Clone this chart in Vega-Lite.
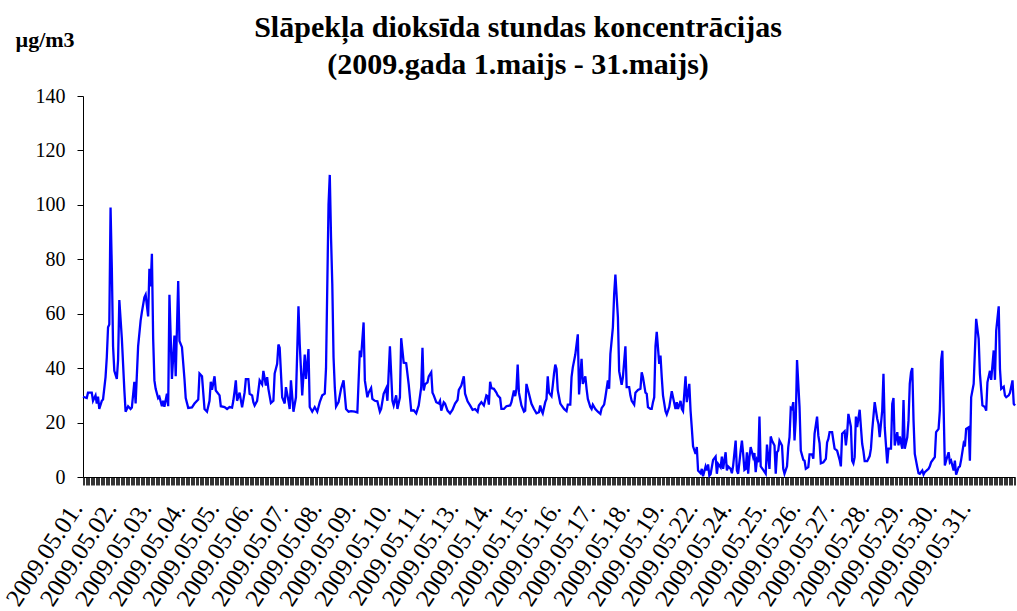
{
  "$schema": "https://vega.github.io/schema/vega-lite/v6.json",
  "width": 932,
  "height": 381,
  "autosize": {"type": "none"},
  "padding": {"left": 83, "top": 96, "right": 2, "bottom": 134},
  "background": "white",
  "config": {"view": {"stroke": null}, "font": "Liberation Serif"},
  "title": {
    "text": ["Slāpekļa dioksīda stundas koncentrācijas", "(2009.gada 1.maijs - 31.maijs)"],
    "font": "Liberation Serif",
    "fontSize": 30,
    "fontWeight": "bold",
    "color": "black",
    "lineHeight": 37,
    "anchor": "middle",
    "dx": -31,
    "dy": 68,
    "offset": 16
  },
  "data": {"values": [
    {"h":0,"v":29.5},{"h":3,"v":29},{"h":4,"v":31},{"h":7,"v":31},{"h":8,"v":28},{"h":10,"v":30},{"h":11,"v":27},{"h":12,"v":29.5},{"h":13,"v":25},{"h":15,"v":28},{"h":16,"v":28.5},{"h":18,"v":36.7},{"h":19,"v":44},{"h":20,"v":55},{"h":21,"v":56},{"h":22,"v":99},{"h":23,"v":77},{"h":24,"v":48},{"h":25,"v":39},{"h":27,"v":36},{"h":28,"v":43},{"h":29,"v":65},{"h":31,"v":51},{"h":33,"v":32},{"h":34,"v":24},{"h":36,"v":26},{"h":38,"v":25},{"h":39,"v":25.5},{"h":41,"v":35},{"h":42,"v":27},{"h":44,"v":48},{"h":46,"v":57.5},{"h":47,"v":60.6},{"h":49,"v":66},{"h":50,"v":67},{"h":52,"v":59},{"h":53,"v":76.5},{"h":54,"v":70},{"h":55,"v":82},{"h":56,"v":51},{"h":57,"v":35.5},{"h":58,"v":32.4},{"h":60,"v":29},{"h":61,"v":29.5},{"h":63,"v":26},{"h":64,"v":28},{"h":65,"v":25.8},{"h":67,"v":30.6},{"h":68,"v":26},{"h":69,"v":67},{"h":71,"v":36},{"h":73,"v":52},{"h":74,"v":37},{"h":76,"v":72},{"h":77,"v":50},{"h":79,"v":47.7},{"h":81,"v":36},{"h":82,"v":29},{"h":84,"v":25.4},{"h":87,"v":25.6},{"h":89,"v":27},{"h":92,"v":28.5},{"h":93,"v":38},{"h":95,"v":37},{"h":97,"v":25},{"h":99,"v":24},{"h":101,"v":28},{"h":102,"v":35},{"h":103,"v":32},{"h":105,"v":37},{"h":106,"v":31.8},{"h":109,"v":30},{"h":110,"v":26},{"h":113,"v":25.7},{"h":115,"v":25},{"h":117,"v":25.7},{"h":119,"v":25.5},{"h":120,"v":28},{"h":121,"v":31.5},{"h":122,"v":35.5},{"h":123,"v":28},{"h":125,"v":31},{"h":127,"v":25.6},{"h":129,"v":31},{"h":130,"v":36},{"h":132,"v":36},{"h":133,"v":30.6},
    {"h":135,"v":30},{"h":136,"v":27.5},{"h":137,"v":26.3},{"h":139,"v":28},{"h":141,"v":35.5},{"h":143,"v":34},{"h":144,"v":39},{"h":146,"v":33.6},{"h":147,"v":36.7},{"h":148,"v":32.4},{"h":150,"v":27.2},{"h":152,"v":28},{"h":153,"v":38},{"h":155,"v":41.6},{"h":156,"v":48.7},{"h":157,"v":47.5},{"h":159,"v":29.3},{"h":161,"v":27},{"h":162,"v":33},{"h":164,"v":28},{"h":165,"v":25},{"h":166,"v":35.5},{"h":168,"v":24},{"h":170,"v":29.3},{"h":172,"v":62.7},{"h":173,"v":49},{"h":175,"v":30},{"h":177,"v":45},{"h":178,"v":36},{"h":180,"v":47},{"h":181,"v":25.7},{"h":183,"v":24},{"h":185,"v":25.7},{"h":187,"v":24},{"h":189,"v":27.5},{"h":191,"v":30},{"h":193,"v":30.6},{"h":194,"v":40},{"h":196,"v":100},{"h":197,"v":111},{"h":198,"v":88},{"h":199,"v":71},{"h":200,"v":44},{"h":201,"v":33},{"h":202,"v":25.9},{"h":204,"v":27.5},{"h":206,"v":32.4},{"h":208,"v":35.5},{"h":210,"v":25},{"h":212,"v":24},{"h":214,"v":24.2},{"h":217,"v":24},{"h":219,"v":23.7},{"h":221,"v":46.5},{"h":222,"v":44},{"h":224,"v":56.8},{"h":225,"v":35.5},{"h":227,"v":29.3},{"h":228,"v":31},{"h":230,"v":32.7},{"h":231,"v":28.7},{"h":233,"v":28},{"h":235,"v":27.8},{"h":237,"v":24},{"h":238,"v":25},{"h":240,"v":30.6},{"h":242,"v":32.6},{"h":243,"v":28},{"h":245,"v":48},{"h":247,"v":28},{"h":248,"v":26.3},{"h":250,"v":30},{"h":251,"v":25},{"h":253,"v":29.3},{"h":254,"v":51},{"h":256,"v":42},{"h":258,"v":41.8},{"h":260,"v":34},{"h":262,"v":24.4},
    {"h":264,"v":24.5},{"h":266,"v":23.4},{"h":268,"v":26.3},{"h":270,"v":33},{"h":271,"v":47.5},{"h":272,"v":31.8},{"h":273,"v":34},{"h":275,"v":34.8},{"h":276,"v":37},{"h":278,"v":38.5},{"h":279,"v":31},{"h":280,"v":30},{"h":282,"v":27.5},{"h":284,"v":27},{"h":285,"v":28},{"h":286,"v":24.4},{"h":288,"v":27.5},{"h":289,"v":27},{"h":291,"v":24.4},{"h":293,"v":23.4},{"h":295,"v":24.7},{"h":297,"v":27},{"h":299,"v":28.3},{"h":300,"v":32},{"h":302,"v":33.6},{"h":304,"v":37},{"h":305,"v":30.6},{"h":307,"v":27.8},{"h":309,"v":26.3},{"h":311,"v":24.7},{"h":313,"v":25},{"h":315,"v":24},{"h":316,"v":26.3},{"h":318,"v":27.5},{"h":320,"v":26.3},{"h":322,"v":30},{"h":323,"v":29.7},{"h":324,"v":26.6},{"h":325,"v":35},{"h":326,"v":32.7},{"h":328,"v":32.4},{"h":330,"v":31},{"h":331,"v":30},{"h":333,"v":29},{"h":334,"v":25},{"h":336,"v":25},{"h":338,"v":26},{"h":341,"v":26.3},{"h":342,"v":27.5},{"h":344,"v":31.8},{"h":345,"v":29.7},{"h":346,"v":32.4},{"h":347,"v":41.3},{"h":348,"v":31},{"h":350,"v":26.3},{"h":352,"v":24},{"h":353,"v":24.4},{"h":354,"v":34.2},{"h":356,"v":30.6},{"h":357,"v":28.7},{"h":358,"v":26.9},{"h":360,"v":25},{"h":362,"v":23.4},{"h":364,"v":23.8},{"h":365,"v":26.3},{"h":366,"v":24.4},{"h":367,"v":23.4},{"h":369,"v":27.5},{"h":370,"v":28.7},{"h":371,"v":37},{"h":372,"v":31},{"h":374,"v":29.7},{"h":375,"v":33.6},{"h":376,"v":38},{"h":377,"v":41.3},{"h":378,"v":39.7},{"h":379,"v":31.8},{"h":381,"v":27},{"h":382,"v":26.3},{"h":384,"v":25},{"h":386,"v":24.2},{"h":387,"v":26.6},{"h":389,"v":26.6},{"h":390,"v":36.7},{"h":391,"v":40.3},{"h":393,"v":45},{"h":395,"v":52.4},{"h":396,"v":30.3},
    {"h":398,"v":43.4},{"h":399,"v":34.2},{"h":401,"v":37},{"h":402,"v":32.4},{"h":403,"v":28.7},{"h":405,"v":25.7},{"h":406,"v":25},{"h":407,"v":26.6},{"h":409,"v":25},{"h":411,"v":24},{"h":413,"v":23.2},{"h":414,"v":25.3},{"h":416,"v":26.6},{"h":417,"v":29.3},{"h":419,"v":35.5},{"h":420,"v":32.4},{"h":421,"v":45.2},{"h":423,"v":55},{"h":424,"v":67},{"h":425,"v":74.4},{"h":427,"v":58.7},{"h":428,"v":38.9},{"h":429,"v":36.4},{"h":430,"v":33.9},{"h":431,"v":36.7},{"h":433,"v":48},{"h":434,"v":33},{"h":436,"v":33},{"h":437,"v":29.9},{"h":438,"v":28},{"h":440,"v":26.6},{"h":441,"v":31},{"h":443,"v":32},{"h":445,"v":32.4},{"h":446,"v":38.5},{"h":447,"v":36.7},{"h":449,"v":31},{"h":450,"v":30.6},{"h":451,"v":25.7},{"h":453,"v":25},{"h":454,"v":25},{"h":455,"v":27.5},{"h":456,"v":29.3},{"h":457,"v":48},{"h":458,"v":53.3},{"h":460,"v":41.6},{"h":461,"v":44.6},{"h":462,"v":36.7},{"h":463,"v":30},{"h":465,"v":24.2},{"h":466,"v":23},{"h":468,"v":25.7},{"h":470,"v":31.5},{"h":471,"v":29.3},{"h":473,"v":25},{"h":474,"v":27.5},{"h":475,"v":25},{"h":477,"v":28},{"h":478,"v":25},{"h":479,"v":24.2},{"h":481,"v":37},{"h":482,"v":27.5},{"h":484,"v":34.2},{"h":485,"v":24.4},{"h":486,"v":18},{"h":487,"v":11.3},{"h":489,"v":8.5},{"h":490,"v":11},{"h":491,"v":2.4},{"h":493,"v":1.4},{"h":494,"v":3},{"h":495,"v":0.3},{"h":497,"v":3.9},{"h":498,"v":2.4},{"h":499,"v":4.6},{"h":500,"v":0.5},{"h":501,"v":1},{"h":503,"v":6.3},{"h":505,"v":7.5},{"h":506,"v":1.2},{"h":507,"v":4.8},{"h":509,"v":3.5},{"h":510,"v":7.5},{"h":511,"v":3},{"h":513,"v":9.1},{"h":514,"v":2.4},{"h":515,"v":3.9},{"h":517,"v":3},{"h":518,"v":1.4},{"h":519,"v":4.2},{"h":521,"v":13.4},{"h":522,"v":2.4},{"h":523,"v":1.2},{"h":525,"v":9.7},{"h":526,"v":13.4},{"h":527,"v":8.5},{"h":528,"v":2.6},
    {"h":529,"v":3},{"h":530,"v":9.1},{"h":531,"v":1.2},{"h":532,"v":7.3},{"h":533,"v":11},{"h":535,"v":7.3},{"h":536,"v":8.8},{"h":537,"v":1.8},{"h":538,"v":6.3},{"h":539,"v":5.4},{"h":540,"v":22.2},{"h":541,"v":3.9},{"h":543,"v":2.6},{"h":545,"v":1.2},{"h":546,"v":11.9},{"h":548,"v":3},{"h":549,"v":14.9},{"h":550,"v":13.4},{"h":552,"v":11.6},{"h":553,"v":1.2},{"h":554,"v":9.1},{"h":555,"v":9.7},{"h":556,"v":13.4},{"h":558,"v":11.6},{"h":559,"v":3},{"h":560,"v":1.2},{"h":562,"v":3.9},{"h":563,"v":11},{"h":564,"v":14.6},{"h":565,"v":25.4},{"h":566,"v":25},{"h":567,"v":27.5},{"h":568,"v":13.4},{"h":569,"v":21.4},{"h":570,"v":43},{"h":572,"v":25.7},{"h":573,"v":9.7},{"h":575,"v":6.3},{"h":576,"v":6},{"h":577,"v":3},{"h":579,"v":3.6},{"h":580,"v":8.3},{"h":582,"v":8.3},{"h":583,"v":6.7},{"h":584,"v":15.9},{"h":586,"v":22.2},{"h":587,"v":15.2},{"h":588,"v":12.4},{"h":589,"v":5},{"h":591,"v":5.4},{"h":593,"v":6.7},{"h":594,"v":12.7},{"h":595,"v":14},{"h":596,"v":16.5},{"h":598,"v":16.5},{"h":599,"v":13.4},{"h":600,"v":10.4},{"h":602,"v":9.7},{"h":604,"v":6.3},{"h":605,"v":3.9},{"h":606,"v":15.9},{"h":608,"v":16.8},{"h":609,"v":11.6},{"h":610,"v":15.9},{"h":611,"v":23.2},{"h":613,"v":18.5},{"h":614,"v":6},{"h":615,"v":5},{"h":616,"v":7.3},{"h":617,"v":22.2},{"h":618,"v":18.3},{"h":620,"v":24.7},{"h":621,"v":18.3},{"h":622,"v":12.2},{"h":623,"v":9.5},{"h":624,"v":5.8},{"h":626,"v":5.8},{"h":628,"v":7.7},{"h":629,"v":10.4},{"h":630,"v":17.1},{"h":632,"v":27.5},{"h":634,"v":21.4},{"h":635,"v":19.5},{"h":636,"v":14.6},{"h":638,"v":24.4},{"h":639,"v":37.9},{"h":640,"v":18.3},{"h":642,"v":5},{"h":643,"v":10.4},{"h":645,"v":10.4},{"h":646,"v":26.9},{"h":647,"v":29},{"h":648,"v":11.6},{"h":650,"v":16.5},{"h":651,"v":11.6},{"h":652,"v":14.9},{"h":654,"v":10.4},{"h":655,"v":28.3},{"h":656,"v":10.4},{"h":658,"v":14.6},{"h":659,"v":20.8},{"h":660,"v":34.2},{"h":661,"v":38.5},{"h":662,"v":40},{"h":663,"v":20.8},{"h":664,"v":8.5},{"h":666,"v":3.6},{"h":667,"v":1.4},{"h":668,"v":1.2},{"h":670,"v":2.4},{"h":671,"v":0.9},{"h":672,"v":1.8},{"h":674,"v":2.6},{"h":675,"v":3},{"h":676,"v":3.9},{"h":677,"v":5.4},{"h":679,"v":6.7},{"h":680,"v":7.3},{"h":681,"v":16.5},{"h":683,"v":17.7},{"h":684,"v":24.4},{"h":685,"v":42.8},{"h":686,"v":46.4},{"h":687,"v":25.7},{"h":688,"v":4.2},{"h":689,"v":6},{"h":691,"v":9.1},{"h":692,"v":5.4},{"h":693,"v":6},{"h":695,"v":2.4},{"h":696,"v":6},{"h":697,"v":0.9},{"h":699,"v":3.6},{"h":700,"v":3.9},{"h":701,"v":6.3},{"h":703,"v":12.2},{"h":704,"v":11.2},{"h":705,"v":17.7},{"h":707,"v":18.3},{"h":708,"v":6},{"h":709,"v":29.3},{"h":711,"v":34.2},{"h":712,"v":46.3},{"h":713,"v":58.1},{"h":715,"v":50.8},{"h":716,"v":37.9},{"h":718,"v":26.3},{"h":720,"v":25.7},{"h":721,"v":24.4},{"h":722,"v":34.8},{"h":724,"v":39},{"h":725,"v":35.7},{"h":727,"v":46.5},{"h":728,"v":35.7},{"h":729,"v":53.8},{"h":731,"v":62.7},{"h":732,"v":39.7},{"h":733,"v":32.4},{"h":735,"v":33.2},{"h":736,"v":29.9},{"h":737,"v":29.3},{"h":739,"v":30},{"h":740,"v":31},{"h":742,"v":35.5},{"h":743,"v":26.9},{"h":744,"v":26.3}
  ]},
  "mark": {"type": "line", "color": "#0000FF", "strokeWidth": 2.3},
  "encoding": {
    "x": {
      "field": "h",
      "type": "quantitative",
      "scale": {"domain": [0, 744], "nice": false, "zero": false},
      "axis": {
        "title": null,
        "tickCount": 744,
        "grid": false,
        "domainColor": "black",
        "domainWidth": 1,
        "tickColor": "black",
        "tickWidth": 0.8,
        "tickSize": 8,
        "labelOverlap": false,
        "labelFlush": false,
        "labelBound": false,
        "labelAngle": -57,
        "labelAlign": "right",
        "labelBaseline": "alphabetic",
        "labelPadding": 23,
        "labelFont": "Liberation Serif",
        "labelFontSize": 25,
        "labelColor": "black",
        "labelExpr": "indexof([0,27,55,82,109,136,164,191,218,246,273,300,327,355,382,409,437,464,491,518,546,573,600,628,655,682,709], datum.value) >= 0 ? ['2009.05.01.','2009.05.02.','2009.05.03.','2009.05.04.','2009.05.05.','2009.05.06.','2009.05.07.','2009.05.08.','2009.05.09.','2009.05.10.','2009.05.11.','2009.05.13.','2009.05.14.','2009.05.15.','2009.05.16.','2009.05.17.','2009.05.18.','2009.05.19.','2009.05.22.','2009.05.24.','2009.05.25.','2009.05.26.','2009.05.27.','2009.05.28.','2009.05.29.','2009.05.30.','2009.05.31.'][indexof([0,27,55,82,109,136,164,191,218,246,273,300,327,355,382,409,437,464,491,518,546,573,600,628,655,682,709], datum.value)] : ''"
      }
    },
    "y": {
      "field": "v",
      "type": "quantitative",
      "scale": {"domain": [0, 140], "nice": false},
      "axis": {
        "title": "µg/m3",
        "titleAngle": 0,
        "titleX": -68,
        "titleY": -50,
        "titleAlign": "left",
        "titleBaseline": "alphabetic",
        "titleFont": "Liberation Serif",
        "titleFontSize": 22,
        "titleFontWeight": "bold",
        "titleColor": "black",
        "values": [0, 20, 40, 60, 80, 100, 120, 140],
        "format": "d",
        "grid": false,
        "domainColor": "black",
        "domainWidth": 1,
        "tickColor": "black",
        "tickSize": 6,
        "labelPadding": 12,
        "labelFont": "Liberation Serif",
        "labelFontSize": 20,
        "labelColor": "black"
      }
    }
  }
}
